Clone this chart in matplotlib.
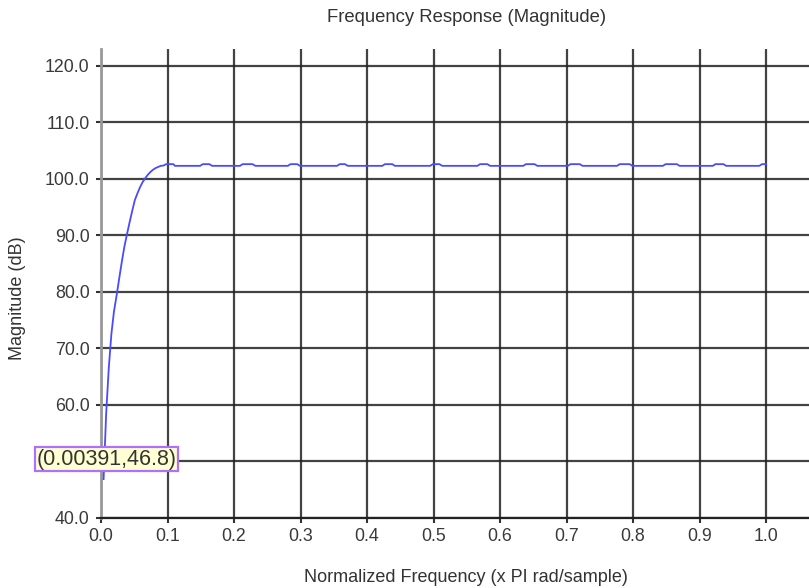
import matplotlib
matplotlib.use('Agg')
import matplotlib.pyplot as plt

plt.rcParams['font.family'] = ['Liberation Sans', 'DejaVu Sans']

# rising edge
freq = [0.0039, 0.0078, 0.0117, 0.0156, 0.0195, 0.0234, 0.0273, 0.0313, 0.0352,
        0.0391, 0.0430, 0.0469, 0.0508, 0.0547, 0.0586, 0.0625, 0.0664, 0.0703,
        0.0742, 0.0781, 0.0820, 0.0859, 0.0898, 0.0940,
        0.0980, 0.1090, 0.1110,
        0.1490, 0.1530, 0.1630, 0.1670,
        0.2090, 0.2130, 0.2280, 0.2320,
        0.2810, 0.2850, 0.2950, 0.2990,
        0.3550, 0.3590, 0.3670, 0.3710,
        0.4230, 0.4270, 0.4380, 0.4420,
        0.4950, 0.4990, 0.5090, 0.5130,
        0.5660, 0.5700, 0.5810, 0.5850,
        0.6350, 0.6390, 0.6520, 0.6560,
        0.7020, 0.7060, 0.7200, 0.7240,
        0.7760, 0.7800, 0.7950, 0.7990,
        0.8450, 0.8490, 0.8660, 0.8700,
        0.9200, 0.9240, 0.9360, 0.9400,
        0.9900, 0.9940, 1.0000]
mag = [46.8, 58.5, 66.5, 72.5, 76.5, 79.3, 82.3, 85.3, 88.0,
       90.2, 92.3, 94.3, 96.2, 97.4, 98.5, 99.4, 100.1, 100.7,
       101.2, 101.6, 101.9, 102.1, 102.3, 102.35,
       102.6, 102.6, 102.3,
       102.3, 102.6, 102.6, 102.3,
       102.3, 102.6, 102.6, 102.3,
       102.3, 102.6, 102.6, 102.3,
       102.3, 102.6, 102.6, 102.3,
       102.3, 102.6, 102.6, 102.3,
       102.3, 102.6, 102.6, 102.3,
       102.3, 102.6, 102.6, 102.3,
       102.3, 102.6, 102.6, 102.3,
       102.3, 102.6, 102.6, 102.3,
       102.3, 102.6, 102.6, 102.3,
       102.3, 102.6, 102.6, 102.3,
       102.3, 102.6, 102.6, 102.3,
       102.3, 102.6, 102.6]

xticks = [0.0, 0.1, 0.2, 0.3, 0.4, 0.5, 0.6, 0.7, 0.8, 0.9, 1.0]
yticks = [40.0, 50.0, 60.0, 70.0, 80.0, 90.0, 100.0, 110.0, 120.0]
marker_label = '(0.00391,46.8)'

W, H = 809, 588
fig = plt.figure(figsize=(W / 100, H / 100), dpi=100)
ax = fig.add_axes([101 / W, (H - 517.5) / H, (W - 101) / W, (517.5 - 49) / H])

ax.plot(freq, mag, color='#4a4aff', lw=1.3, zorder=3)

ax.set_xlim(0, (W - 101) / 665)
ax.set_ylim(40, 123.0)
ax.set_xticks(xticks)
ax.set_xticklabels(['%.1f' % t for t in xticks])
ax.set_yticks(yticks)
# the 50.0 label sits under the marker tooltip
ax.set_yticklabels(['' if t == 50.0 else '%.1f' % t for t in yticks])
ax.grid(True, color='#222222', lw=1.6, alpha=0.85)
ax.set_axisbelow(True)

for s in ['top', 'right']:
    ax.spines[s].set_visible(False)
ax.spines['left'].set_color('#999999')
ax.spines['left'].set_linewidth(2)
ax.spines['bottom'].set_color('#222222')
ax.spines['bottom'].set_linewidth(1.6)
ax.tick_params(direction='out', length=3.6, width=1.5, color='#333333',
               labelsize=12.8, labelcolor='#3a3a3a')
ax.tick_params(axis='y', pad=4.5)
ax.tick_params(axis='x', pad=4)

fig.text(467 / W, 1 - 18 / H, 'Frequency Response (Magnitude)', ha='center', va='center',
         fontsize=13.3, color='#333333')
fig.text(466 / W, 1 - 577 / H, 'Normalized Frequency (x PI rad/sample)', ha='center', va='center',
         fontsize=13, color='#333333')
fig.text(18 / W, 1 - 298 / H, 'Magnitude (dB)', ha='center', va='center', rotation=90,
         fontsize=13, color='#333333')

fig.text(106.5 / W, 1 - 459 / H, marker_label, ha='center', va='center',
         fontsize=15.5, color='#333333',
         bbox=dict(boxstyle='square,pad=0.05', fc='#ffffd2', ec='#b070ff', lw=1.6))

fig.savefig('out.png', dpi=100)
